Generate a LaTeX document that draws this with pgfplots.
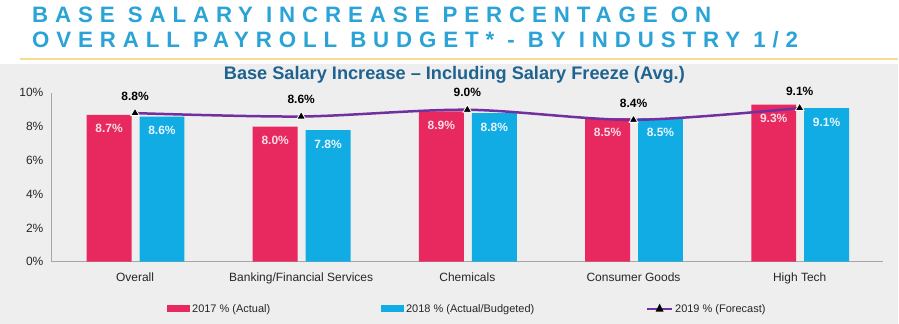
\documentclass[border=0pt]{standalone}
\usepackage{fontspec}
\setmainfont{Liberation Sans}
\newfontfamily\titlefont[LetterSpace=31]{Liberation Sans}
\usepackage{graphicx}
\usepackage{pgfplots}
\pgfplotsset{compat=1.18}
\definecolor{pinkc}{HTML}{E8295F}
\definecolor{pinkl}{HTML}{FADCE6}
\definecolor{bluec}{HTML}{12ACE5}
\definecolor{bluel}{HTML}{E6F6FC}
\definecolor{purplec}{HTML}{7030A0}
\definecolor{bgc}{HTML}{EEEEEE}
\definecolor{goldc}{HTML}{F7DC8F}
\definecolor{titlec}{HTML}{2AA3D6}
\definecolor{subc}{HTML}{1F6391}
\definecolor{axisc}{HTML}{A6A6A6}
\definecolor{textc}{HTML}{262626}
\begin{document}
\begin{tikzpicture}
\fill[white] (0pt,0pt) rectangle (899pt,-324pt);
\fill[bgc] (0pt,-64pt) rectangle (899pt,-324pt);
\draw[goldc, line width=2.5pt] (20pt,-59pt) -- (899pt,-59pt);
\node[anchor=base west, inner sep=0pt, text=titlec, font=\titlefont\fontsize{22.3}{22.3}\selectfont\bfseries] at (32pt,-23pt) {BASE SALARY INCREASE PERCENTAGE ON};
\node[anchor=base west, inner sep=0pt, text=titlec, font=\titlefont\fontsize{22.3}{22.3}\selectfont\bfseries] at (32pt,-48pt) {OVERALL PAYROLL BUDGET* - BY INDUSTRY 1/2};
\node[anchor=base, inner sep=0pt, text=subc, font=\fontsize{18.2}{18.2}\selectfont\bfseries] at (455pt,-80pt) {Base Salary Increase – Including Salary Freeze (Avg.)};
\begin{axis}[
  at={(52pt,-262pt)}, anchor=south west,
  scale only axis, width=832pt, height=169pt,
  xmin=-0.5, xmax=4.5, ymin=0, ymax=10,
  axis x line*=bottom, axis y line*=left,
  axis line style={draw=axisc, line width=1pt, -},
  xtick={0,1,2,3,4},
  xticklabels={Overall, Banking/Financial Services, Chemicals, Consumer Goods, High Tech},
  ytick={0,2,4,6,8,10},
  yticklabel={\pgfmathprintnumber{\tick}\%},
  major tick length=0pt,
  /pgf/number format/assume math mode=true,
  tick label style={font=\fontsize{12}{12}\selectfont, text=textc},
  x tick label style={yshift=-8pt},
  y tick label style={xshift=-5pt},
  legend columns=3,
  legend style={at={(0.5,-0.28)}, anchor=center, draw=none, fill=none,
    font=\fontsize{11}{11}\selectfont, text=textc,
    /tikz/column 2/.style={column sep=109pt},
    /tikz/column 4/.style={column sep=110pt}},
  clip=false,
]
\addplot[ybar, bar width=45pt, bar shift=-26pt, fill=pinkc, draw=none,
  nodes near coords={\pgfmathprintnumber[fixed,fixed zerofill,precision=1]{\pgfplotspointmeta}\%},
  every node near coord/.append style={text=pinkl, font=\fontsize{12}{12}\selectfont\bfseries, anchor=center, xshift=-26pt, yshift=-14pt},
  legend image code/.code={\fill[pinkc] (0pt,-3.5pt) rectangle (23pt,3.5pt);}]
  coordinates {(0,8.7) (1,8.0) (2,8.9) (3,8.5) (4,9.3)};
\addplot[ybar, bar width=45pt, bar shift=27pt, fill=bluec, draw=none,
  nodes near coords={\pgfmathprintnumber[fixed,fixed zerofill,precision=1]{\pgfplotspointmeta}\%},
  every node near coord/.append style={text=bluel, font=\fontsize{12}{12}\selectfont\bfseries, anchor=center, xshift=27pt, yshift=-14pt},
  legend image code/.code={\fill[bluec] (0pt,-3.5pt) rectangle (23pt,3.5pt);}]
  coordinates {(0,8.6) (1,7.8) (2,8.8) (3,8.5) (4,9.1)};
\addplot[purplec, line width=2.5pt, smooth, mark=triangle*, mark size=5pt,
  mark options={fill=black, draw=white, line width=0.8pt},
  nodes near coords={\pgfmathprintnumber[fixed,fixed zerofill,precision=1]{\pgfplotspointmeta}\%},
  every node near coord/.append style={text=black, font=\fontsize{12}{12}\selectfont\bfseries, anchor=center, yshift=17pt},
  legend image code/.code={\draw[purplec, line width=2pt] (0pt,0pt) -- (25pt,0pt); \fill[black] (10.5pt,-1.5pt) -- (14.5pt,-1.5pt) -- (12.5pt,2.5pt) -- cycle;}]
  coordinates {(0,8.8) (1,8.6) (2,9.0) (3,8.4) (4,9.1)};
\legend{2017 \% (Actual), 2018 \% (Actual/Budgeted), 2019 \% (Forecast)}
\end{axis}
\end{tikzpicture}
\end{document}
